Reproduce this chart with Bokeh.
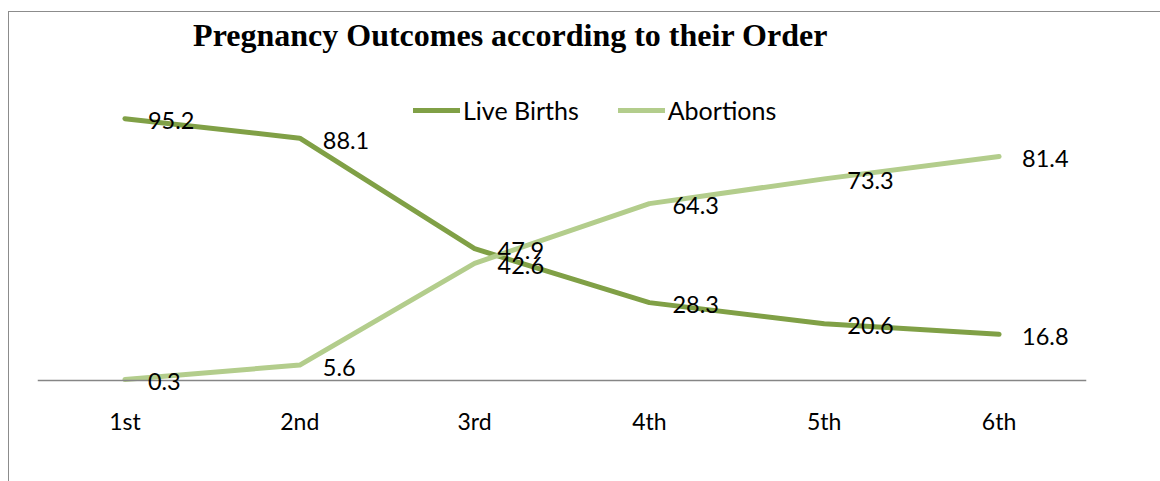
from bokeh.plotting import figure
from bokeh.models import ColumnDataSource, LabelSet, Label, Legend, LegendItem, Range1d, Span
from bokeh.embed import file_html
from bokeh.resources import INLINE
from bokeh.core.properties import value

categories = ["1st", "2nd", "3rd", "4th", "5th", "6th"]
live_births = [95.2, 88.1, 47.9, 28.3, 20.6, 16.8]
abortions = [0.3, 5.6, 42.6, 64.3, 73.3, 81.4]

title_text = "Pregnancy Outcomes according to their Order"
series_names = ["Live Births", "Abortions"]
colors = ["#80A046", "#B3CD8C"]

FONT = "Lato"

src = ColumnDataSource(dict(
    cat=categories,
    lb=live_births,
    ab=abortions,
    lb_txt=[f"{v:.1f}" for v in live_births],
    ab_txt=[f"{v:.1f}" for v in abortions],
))

p = figure(width=1152, height=470, x_range=categories, y_range=Range1d(-5.84, 133.8),
           output_backend="svg", toolbar_location=None,
           min_border_left=28, min_border_right=75, min_border_top=0, min_border_bottom=86)
p.outline_line_color = None
p.grid.visible = False
p.yaxis.visible = False
p.styles = {"border-left": "1px solid #8c8c8c", "border-top": "1px solid #8c8c8c",
            "margin-left": "8px", "margin-top": "11px"}

ax = p.xaxis[0]
ax.axis_line_color = None
ax.major_tick_line_color = None
ax.minor_tick_line_color = None
ax.major_label_standoff = 4
ax.major_label_text_font = FONT
ax.major_label_text_font_size = "23px"
ax.major_label_text_color = "#000000"

baseline = Span(location=0, dimension="width", line_color="#868686", line_width=1.5)
p.add_layout(baseline)

r_lb = p.line("cat", "lb", source=src, line_color=colors[0], line_width=5, line_cap="round", line_join="round")
r_ab = p.line("cat", "ab", source=src, line_color=colors[1], line_width=5, line_cap="round", line_join="round")

for col in ["lb", "ab"]:
    ls = LabelSet(x="cat", y=col, text=col + "_txt", source=src, x_offset=23, y_offset=-2,
                  text_baseline="middle", text_font=value(FONT), text_font_size="23.5px",
                  text_color="#000000")
    p.add_layout(ls)

legend = Legend(items=[LegendItem(label=series_names[0], renderers=[r_lb]),
                       LegendItem(label=series_names[1], renderers=[r_ab])],
                orientation="horizontal", location=(376, 271), padding=0, margin=0,
                spacing=39, glyph_width=47, glyph_height=22, label_standoff=3,
                label_text_font=FONT, label_text_font_size="25px", label_text_color="#000000",
                background_fill_alpha=0, border_line_color=None)
p.add_layout(legend, "center")

title = Label(x=473, y=362, x_units="screen", y_units="screen", text=title_text,
              text_align="center", text_baseline="middle", text_color="#000000",
              text_font="Liberation Serif", text_font_style="bold", text_font_size="32px")
p.add_layout(title)

open("out.html", "w").write(file_html(p, INLINE))
